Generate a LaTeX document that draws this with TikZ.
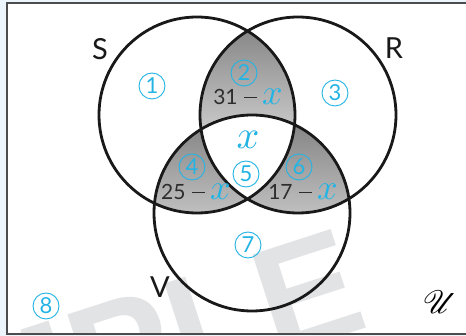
\documentclass[tikz,border=0pt]{standalone}
\usepackage{fontspec}
\usepackage{mathrsfs}
\setsansfont{Lato}
\newfontfamily\wmfont{Liberation Sans}
\definecolor{cy}{RGB}{35,180,228}
\definecolor{shade}{RGB}{213,214,216}
\definecolor{bandblue}{RGB}{236,245,251}
\definecolor{wm}{RGB}{226,227,229}
\definecolor{numgray}{RGB}{45,45,45}
\tikzset{
  setcircle/.style={line width=2.8pt, draw=black!90},
  region/.style={circle, draw=cy, line width=0.9pt, minimum size=26pt, inner sep=0pt, text=cy, font=\sffamily\fontsize{22}{22}\selectfont},
  setlabel/.style={font=\sffamily\fontsize{29}{29}\selectfont, text=black!90},
  expr/.style={font=\sffamily\fontsize{21}{21}\selectfont, text=numgray, inner sep=0pt},
}
\newcommand{\xv}[1][3.6]{\textcolor{cy}{\fontsize{10}{10}\selectfont\scalebox{#1}{$x$}}}
\newcommand{\mn}{\hspace{0.3em}\rule[0.3em]{0.62em}{0.07em}\hspace{0.25em}}
\begin{document}
\begin{tikzpicture}[x=1pt,y=-1pt]
\useasboundingbox (0,0) rectangle (466,336);
\fill[bandblue] (0,0) rectangle (466,336);
\fill[white] (7,3) rectangle (470,334);
% watermark
\begin{scope}
\clip (7,3) rectangle (470,334);
\node[anchor=base east, rotate=18, text=wm, font=\wmfont\bfseries\fontsize{152}{152}\selectfont, inner sep=0pt] (wmark) at (372,326) {SAMPLE};
\end{scope}
% circle centres
\coordinate (cS) at (197,115);
\coordinate (cR) at (298,115);
\coordinate (cV) at (252,213);
\def\rad{98}
% shaded pairwise regions
\begin{scope}
\clip (cS) circle (\rad);
\fill[shade] (cR) circle (\rad);
\fill[shade] (cV) circle (\rad);
\end{scope}
\begin{scope}
\clip (cR) circle (\rad);
\fill[shade] (cV) circle (\rad);
\end{scope}
\begin{scope}
\clip (cS) circle (\rad);
\clip (cR) circle (\rad);
\fill[white] (cV) circle (\rad);
\end{scope}
% circles
\draw[setcircle] (cS) circle (\rad);
\draw[setcircle] (cR) circle (\rad);
\draw[setcircle] (cV) circle (\rad);
% frame
\draw[line width=1.5pt, draw=black!70] (470,3) -- (7,3) -- (7,334) -- (470,334);
% labels
\node[setlabel] (lS) at (100,49) {S};
\node[setlabel] (lR) at (394,48) {R};
\node[setlabel] (lV) at (160,287) {V};
\node[font=\fontsize{24.88}{25}\selectfont] (lU) at (440,302) {\scalebox{1.3}{$\mathscr{U}$}};
% region numbers
\node[region] (r1) at (152,86) {1};
\node[region] (r2) at (244,73) {2};
\node[region] (r3) at (335,93) {3};
\node[region] (r4) at (192,167) {4};
\node[region] (r5) at (246,174) {5};
\node[region] (r6) at (299,167) {6};
\node[region] (r7) at (248,245) {7};
\node[region] (r8) at (46,306) {8};
% expressions
\node[expr] (e2) at (248,97) {31\mn\xv};
\node[expr] (e5) at (248,140) {\xv[4.0]};
\node[expr] (e4) at (196,192) {25\mn\xv};
\node[expr] (e6) at (303,192) {17\mn\xv};
\end{tikzpicture}
\end{document}
